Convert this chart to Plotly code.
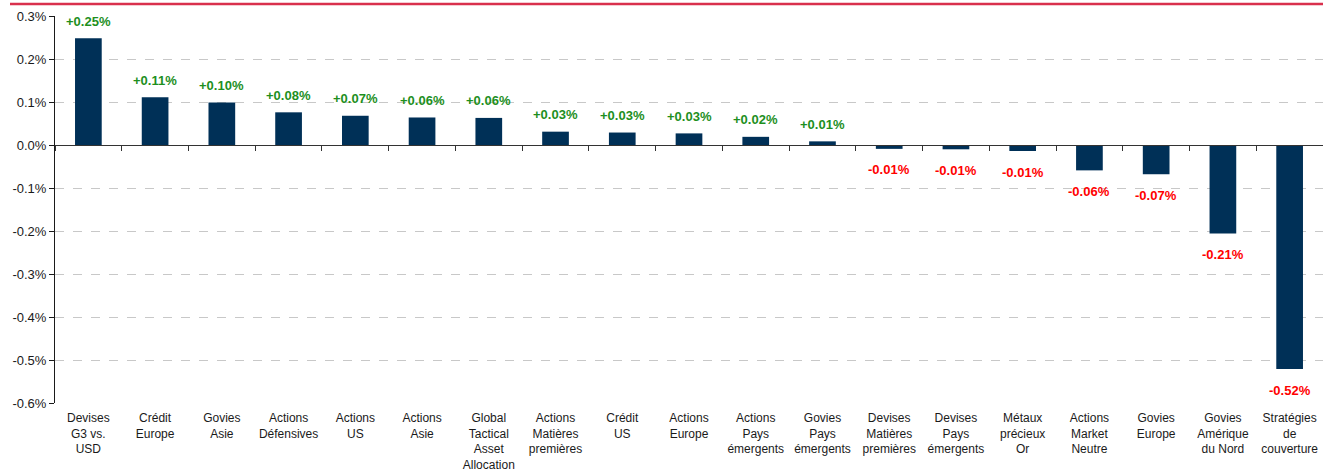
import plotly.graph_objects as go

categories = [
    "Devises<br>G3 vs.<br>USD", "Crédit<br>Europe", "Govies<br>Asie", "Actions<br>Défensives",
    "Actions<br>US", "Actions<br>Asie", "Global<br>Tactical<br>Asset<br>Allocation",
    "Actions<br>Matières<br>premières", "Crédit<br>US", "Actions<br>Europe",
    "Actions<br>Pays<br>émergents", "Govies<br>Pays<br>émergents", "Devises<br>Matières<br>premières",
    "Devises<br>Pays<br>émergents", "Métaux<br>précieux<br>Or", "Actions<br>Market<br>Neutre",
    "Govies<br>Europe", "Govies<br>Amérique<br>du Nord", "Stratégies<br>de<br>couverture",
]
values = [0.248, 0.111, 0.099, 0.076, 0.068, 0.064, 0.063, 0.031, 0.029, 0.027, 0.019, 0.0085,
          -0.009, -0.010, -0.014, -0.059, -0.068, -0.206, -0.521]
labels = [f"{v:+.2f}%" for v in values]

y_tickvals = [0.3, 0.2, 0.1, 0.0, -0.1, -0.2, -0.3, -0.4, -0.5, -0.6]
y_ticktext = ["0.3%", "0.2%", "0.1%", "0.0%", "-0.1%", "-0.2%", "-0.3%", "-0.4%", "-0.5%", "-0.6%"]

BAR = "#003057"
GREEN = "#1e8f1e"
RED = "#ff0000"
FONT = "Liberation Sans, Arial, sans-serif"

fig = go.Figure()
fig.add_trace(go.Bar(x=categories, y=values, marker=dict(color=BAR, line=dict(width=0)),
                     width=0.4, hoverinfo="skip", showlegend=False))
# invisible trace carrying the zero-line category axis (ticks between categories)
fig.add_trace(go.Scatter(x=categories, y=values, xaxis="x2", mode="markers",
                         marker=dict(opacity=0), hoverinfo="skip", showlegend=False))

for c, v, t in zip(categories, values, labels):
    fig.add_annotation(x=c, y=v, text=f"<b>{t}</b>", showarrow=False,
                       yshift=17 if v >= 0 else -21, yanchor="middle",
                       font=dict(family=FONT, size=13, color=GREEN if v >= 0 else RED))

n = len(categories)
fig.update_layout(
    width=1323, height=471,
    margin=dict(l=55, r=0, t=16, b=68),
    paper_bgcolor="white", plot_bgcolor="white",
    bargap=0.6,
    font=dict(family=FONT, size=13, color="#1a1a1a"),
    xaxis=dict(type="category", range=[-0.5, n - 0.5], showline=False, ticks="",
               showgrid=False, zeroline=False, ticklabelstandoff=6, automargin=False,
               tickfont=dict(family=FONT, size=12, color="#1a1a1a")),
    xaxis2=dict(type="category", range=[-0.5, n - 0.5], overlaying="x", anchor="free",
                position=0.6 / 0.9, side="bottom", showline=True, linecolor="#333333",
                linewidth=1, ticks="outside", tickson="boundaries", ticklen=5,
                tickcolor="#333333", showticklabels=False, showgrid=False, zeroline=False,
                automargin=False),
    yaxis=dict(range=[-0.6, 0.3], tickvals=y_tickvals, ticktext=y_ticktext,
               showline=True, linecolor="#1a1a1a", linewidth=1, ticks="outside",
               ticklen=5, tickcolor="#1a1a1a", showgrid=True, gridcolor="#c8c8c8",
               griddash="dash", gridwidth=1, zeroline=False, automargin=False,
               tickfont=dict(family=FONT, size=13, color="#1a1a1a")),
)

fig.add_shape(type="line", xref="paper", yref="paper", x0=-45 / 1268, x1=1, y0=1 + 12 / 387,
              y1=1 + 12 / 387, line=dict(color="#d9304d", width=2.5))

fig.write_html("out.html", config={"displayModeBar": False},
               post_script="document.body.style.margin='0';")
